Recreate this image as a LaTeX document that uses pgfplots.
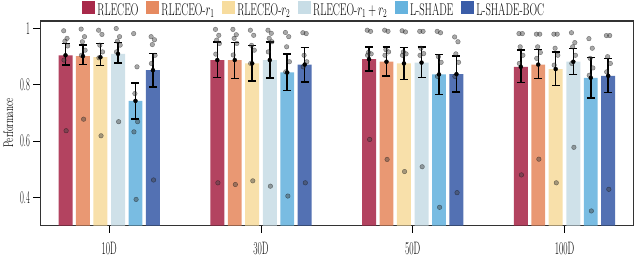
\documentclass[border=0pt]{standalone}
\usepackage{fontspec}
\usepackage{pgfplots}
\pgfplotsset{compat=1.18}
\definecolor{c1}{HTML}{A8294A}
\definecolor{c2}{HTML}{E68A60}
\definecolor{c3}{HTML}{F7DC9E}
\definecolor{c4}{HTML}{C8DDE6}
\definecolor{c5}{HTML}{66B3DE}
\definecolor{c6}{HTML}{3B5DA8}
\newcommand\sq[2]{\scalebox{#1}[1]{#2}}
\begin{document}
\begin{tikzpicture}
\begin{axis}[
  scale only axis, width=594pt, height=205pt,
  xmin=-0.454, xmax=3.454, ymin=0.3, ymax=1.027,
  xtick={0,1,2,3},
  xticklabels={\sq{0.52}{10D},\sq{0.52}{30D},\sq{0.52}{50D},\sq{0.52}{100D}},
  ytick={0.4,0.6,0.8,1},
  yticklabels={\sq{0.46}{0.4},\sq{0.46}{0.6},\sq{0.46}{0.8},\sq{0.46}{1}},
  tick label style={font=\fontsize{18}{18}\selectfont},
  xticklabel style={yshift=-6pt},
  tick align=outside, major tick length=7pt,
  tick style={black, line width=0.9pt},
  xtick pos=bottom, ytick pos=left,
  axis line style={black!80, line width=1.2pt},
  ylabel={\sq{0.66}{Performance}},
  ylabel style={font=\fontsize{14}{14}\selectfont},
  legend style={at={(0.462,1)}, anchor=south, draw=none, fill=none,
    legend columns=6, font=\fontsize{17}{17}\selectfont,
    /tikz/every even column/.append style={column sep=6pt},
    inner sep=1pt, yshift=1pt},
  legend image code/.code={\fill[#1, fill opacity=1] (0pt,-4pt) rectangle (13pt,9pt);},
]
\addplot[ybar, bar width=0.092, bar shift=0pt, fill=c1, fill opacity=0.88, draw=none]
  coordinates {(-0.288,0.905) (0.712,0.888) (1.712,0.891) (2.712,0.864)};
\addlegendentry{\sq{0.62}{RLECEO}}
\addplot[ybar, bar width=0.092, bar shift=0pt, fill=c2, fill opacity=0.88, draw=none]
  coordinates {(-0.173,0.902) (0.827,0.888) (1.827,0.882) (2.827,0.872)};
\addlegendentry{\sq{0.62}{RLECEO-$r_1$}}
\addplot[ybar, bar width=0.092, bar shift=0pt, fill=c3, fill opacity=0.88, draw=none]
  coordinates {(-0.058,0.898) (0.942,0.876) (1.942,0.876) (2.942,0.856)};
\addlegendentry{\sq{0.62}{RLECEO-$r_2$}}
\addplot[ybar, bar width=0.092, bar shift=0pt, fill=c4, fill opacity=0.88, draw=none]
  coordinates {(0.058,0.910) (1.058,0.888) (2.058,0.879) (3.058,0.882)};
\addlegendentry{\sq{0.62}{RLECEO-$r_1+r_2$}}
\addplot[ybar, bar width=0.092, bar shift=0pt, fill=c5, fill opacity=0.88, draw=none]
  coordinates {(0.173,0.743) (1.173,0.844) (2.173,0.837) (3.173,0.825)};
\addlegendentry{\sq{0.62}{L-SHADE}}
\addplot[ybar, bar width=0.092, bar shift=0pt, fill=c6, fill opacity=0.88, draw=none]
  coordinates {(0.288,0.852) (1.288,0.872) (2.288,0.838) (3.288,0.832)};
\addlegendentry{\sq{0.62}{L-SHADE-BOC}}
% individual runs
\addplot[forget plot, only marks, draw=none, mark=*, mark size=2.3pt, mark options={draw=none, fill=black!75, opacity=0.45}]
  table[row sep=\\] {
x y\\
-0.300 0.992\\ -0.278 0.965\\ -0.292 0.955\\ -0.274 0.938\\ -0.298 0.888\\ -0.284 0.637\\
-0.185 0.998\\ -0.163 0.971\\ -0.177 0.953\\ -0.159 0.923\\ -0.183 0.905\\ -0.169 0.678\\
-0.070 0.994\\ -0.048 0.979\\ -0.062 0.941\\ -0.044 0.917\\ -0.068 0.896\\ -0.054 0.619\\
0.046 1.000\\ 0.068 0.971\\ 0.054 0.955\\ 0.072 0.941\\ 0.048 0.917\\ 0.062 0.669\\
0.161 0.982\\ 0.183 0.864\\ 0.169 0.769\\ 0.187 0.669\\ 0.163 0.633\\ 0.177 0.393\\
0.276 0.971\\ 0.298 0.960\\ 0.284 0.943\\ 0.302 0.905\\ 0.278 0.876\\ 0.292 0.462\\
0.700 0.997\\ 0.722 0.976\\ 0.708 0.959\\ 0.726 0.947\\ 0.702 0.909\\ 0.716 0.452\\
0.815 0.997\\ 0.837 0.978\\ 0.823 0.965\\ 0.841 0.947\\ 0.817 0.906\\ 0.831 0.446\\
0.930 0.994\\ 0.952 0.976\\ 0.938 0.940\\ 0.956 0.923\\ 0.932 0.876\\ 0.946 0.459\\
1.046 0.994\\ 1.068 0.983\\ 1.054 0.965\\ 1.072 0.953\\ 1.048 0.917\\ 1.062 0.440\\
1.161 0.986\\ 1.183 0.971\\ 1.169 0.935\\ 1.187 0.882\\ 1.163 0.846\\ 1.177 0.405\\
1.276 0.985\\ 1.298 0.982\\ 1.284 0.905\\ 1.302 0.882\\ 1.278 0.864\\ 1.292 0.452\\
1.700 0.994\\ 1.722 0.990\\ 1.708 0.915\\ 1.726 0.910\\ 1.702 0.905\\ 1.716 0.606\\
1.815 0.994\\ 1.837 0.990\\ 1.823 0.925\\ 1.841 0.917\\ 1.817 0.905\\ 1.831 0.535\\
1.930 0.992\\ 1.952 0.988\\ 1.938 0.917\\ 1.956 0.910\\ 1.932 0.905\\ 1.946 0.492\\
2.046 0.990\\ 2.068 0.990\\ 2.054 0.930\\ 2.072 0.911\\ 2.048 0.905\\ 2.062 0.509\\
2.161 0.990\\ 2.183 0.985\\ 2.169 0.900\\ 2.187 0.880\\ 2.163 0.830\\ 2.177 0.365\\
2.276 0.970\\ 2.298 0.953\\ 2.284 0.910\\ 2.302 0.880\\ 2.278 0.830\\ 2.292 0.417\\
2.700 0.982\\ 2.722 0.982\\ 2.708 0.935\\ 2.726 0.905\\ 2.702 0.876\\ 2.716 0.480\\
2.815 0.980\\ 2.837 0.980\\ 2.823 0.935\\ 2.841 0.915\\ 2.817 0.894\\ 2.831 0.536\\
2.930 0.980\\ 2.952 0.980\\ 2.938 0.930\\ 2.956 0.905\\ 2.932 0.870\\ 2.946 0.452\\
3.046 0.985\\ 3.068 0.950\\ 3.054 0.935\\ 3.072 0.905\\ 3.048 0.876\\ 3.062 0.578\\
3.161 0.964\\ 3.183 0.930\\ 3.169 0.894\\ 3.187 0.860\\ 3.163 0.834\\ 3.177 0.352\\
3.276 0.975\\ 3.298 0.975\\ 3.284 0.900\\ 3.302 0.876\\ 3.278 0.846\\ 3.292 0.429\\
};
% error bars
\addplot[forget plot, only marks, mark=none,
  error bars/.cd, y dir=both, y explicit,
  error bar style={black, line width=1.5pt},
  error mark options={black, rotate=90, mark size=4pt, line width=1.5pt}]
  coordinates {
  (-0.288,0.905) += (0,0.042) -= (0,0.035)
  (0.712,0.888) += (0,0.065) -= (0,0.062)
  (1.712,0.891) += (0,0.044) -= (0,0.042)
  (2.712,0.864) += (0,0.059) -= (0,0.056)
  (-0.173,0.902) += (0,0.039) -= (0,0.030)
  (0.827,0.888) += (0,0.063) -= (0,0.065)
  (1.827,0.882) += (0,0.053) -= (0,0.051)
  (2.827,0.872) += (0,0.053) -= (0,0.049)
  (-0.058,0.898) += (0,0.049) -= (0,0.030)
  (0.942,0.876) += (0,0.063) -= (0,0.062)
  (1.942,0.876) += (0,0.056) -= (0,0.057)
  (2.942,0.856) += (0,0.061) -= (0,0.059)
  (0.058,0.910) += (0,0.040) -= (0,0.033)
  (1.058,0.888) += (0,0.065) -= (0,0.063)
  (2.058,0.879) += (0,0.056) -= (0,0.053)
  (3.058,0.882) += (0,0.047) -= (0,0.045)
  (0.173,0.743) += (0,0.064) -= (0,0.065)
  (1.173,0.844) += (0,0.065) -= (0,0.065)
  (2.173,0.837) += (0,0.071) -= (0,0.071)
  (3.173,0.825) += (0,0.072) -= (0,0.071)
  (0.288,0.852) += (0,0.059) -= (0,0.059)
  (1.288,0.872) += (0,0.061) -= (0,0.062)
  (2.288,0.838) += (0,0.064) -= (0,0.063)
  (3.288,0.832) += (0,0.061) -= (0,0.060)
  };
\end{axis}
\end{tikzpicture}
\end{document}
